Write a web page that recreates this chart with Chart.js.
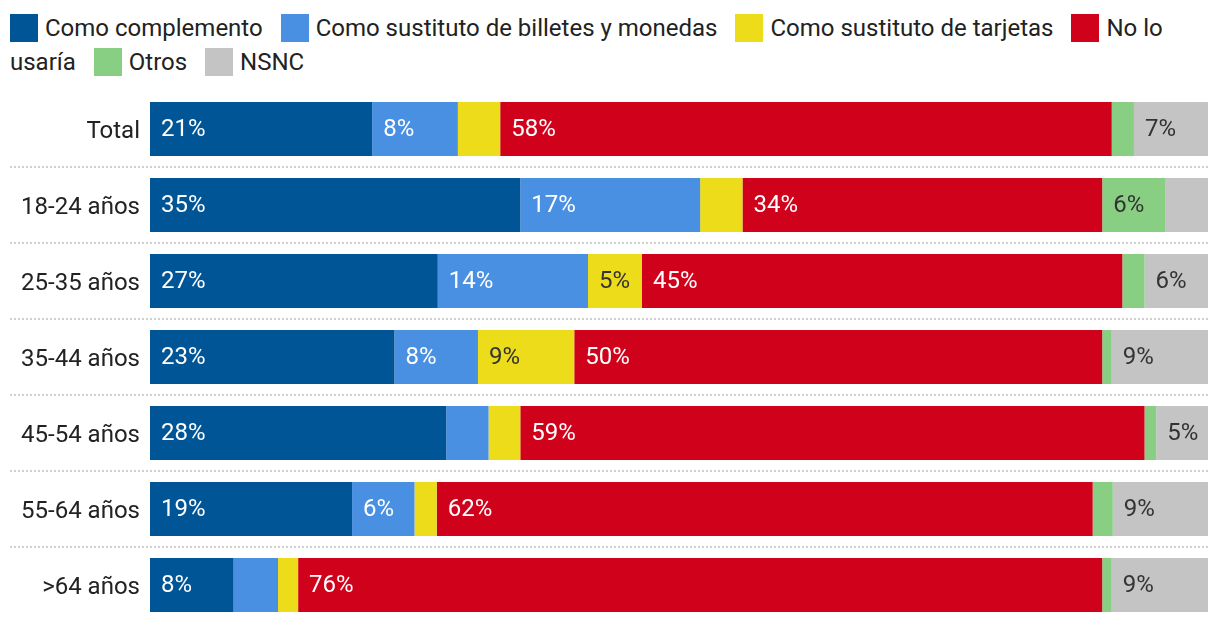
<!DOCTYPE html>
<html><head><meta charset="utf-8">
<script src="https://cdn.jsdelivr.net/npm/chart.js@4"></script>
<style>
html,body{margin:0;padding:0;background:#fff;width:1220px;height:624px;overflow:hidden;font-family:Roboto,sans-serif;}
#legend{position:absolute;left:10px;top:11px;width:1200px;font-size:24px;line-height:34px;color:#222;}
#legend .it{margin-right:12px;}
#legend .sw{display:inline-block;width:28px;height:28px;vertical-align:-6px;margin-right:7px;}
#wrap{position:absolute;left:0;top:91px;width:1220px;height:532px;}
</style></head><body>
<div id="legend"></div>
<div id="wrap"><canvas id="c"></canvas></div>
<script>
const categories = ['Total','18-24 años','25-35 años','35-44 años','45-54 años','55-64 años','>64 años'];
const seriesNames = ['Como complemento','Como sustituto de billetes y monedas','Como sustituto de tarjetas','No lo usaría','Otros','NSNC'];
const complemento = [21.0,35.0,27.2,23.1,28.0,19.1,7.9];
const sustBilletes = [8.1,17.0,14.2,7.9,4.0,5.9,4.2];
const sustTarjetas = [4.0,4.0,5.1,9.1,3.0,2.1,1.9];
const noLoUsaria = [57.8,34.0,45.4,49.9,59.0,62.0,76.0];
const otros = [2.1,6.0,2.1,0.9,1.1,1.9,0.9];
const nsnc = [7.0,4.0,6.0,9.1,4.9,9.1,9.1];
const colors = ['#005596','#4a90e2','#ecdc1a','#d0021b','#88cf84','#c4c4c4'];
const labelColors = ['#fff','#fff','#333','#fff','#333','#333'];
const allData = [complemento,sustBilletes,sustTarjetas,noLoUsaria,otros,nsnc];

// HTML legend
const lg = document.getElementById('legend');
lg.innerHTML = seriesNames.map((n,i)=>'<span class="it"><span class="sw" style="background:'+colors[i]+'"></span>'+n+'</span>').join(' ');

const labelPlugin = {
  id:'segLabels',
  afterDatasetsDraw(chart){
    const ctx = chart.ctx;
    ctx.save();
    ctx.font = '24px Roboto';
    ctx.textBaseline = 'middle';
    ctx.textAlign = 'left';
    chart.data.datasets.forEach((ds,di)=>{
      const meta = chart.getDatasetMeta(di);
      meta.data.forEach((bar,i)=>{
        const v = ds.data[i];
        if (v < 4.5) return;
        const left = Math.min(bar.x, bar.base);
        ctx.fillStyle = labelColors[di];
        ctx.fillText(Math.round(v)+'%', left+11, bar.y+1);
      });
    });
    ctx.restore();
  }
};
const gridPlugin = {
  id:'dotGrid',
  beforeDatasetsDraw(chart){
    const y = chart.scales.y, ctx = chart.ctx;
    ctx.save();
    ctx.strokeStyle = '#cfcfcf';
    ctx.lineWidth = 2;
    ctx.setLineDash([2,2]);
    for (let i=0;i<categories.length-1;i++){
      const py = Math.round((y.getPixelForTick(i)+y.getPixelForTick(i+1))/2);
      ctx.beginPath();
      ctx.moveTo(10,py);
      ctx.lineTo(chart.chartArea.right,py);
      ctx.stroke();
    }
    ctx.restore();
  }
};

new Chart(document.getElementById('c'),{
  type:'bar',
  data:{
    labels:categories,
    datasets: allData.map((d,i)=>({label:seriesNames[i],data:d,backgroundColor:colors[i],borderWidth:0,barPercentage:0.71,categoryPercentage:1}))
  },
  options:{
    indexAxis:'y',
    responsive:true,
    maintainAspectRatio:false,
    animation:false,
    layout:{padding:{left:0,right:12,top:0,bottom:0}},
    plugins:{legend:{display:false},tooltip:{enabled:false}},
    scales:{
      x:{stacked:true,min:0,max:100,display:false},
      y:{stacked:true,
         grid:{display:false,drawTicks:false},
         border:{display:false},
         ticks:{color:'#222',font:{family:'Roboto',size:24},padding:10,labelOffset:3},
         afterFit(s){s.width=150;s.paddingTop=0;s.paddingBottom=0;}
      }
    }
  },
  plugins:[gridPlugin,labelPlugin]
});
</script>
</body></html>
